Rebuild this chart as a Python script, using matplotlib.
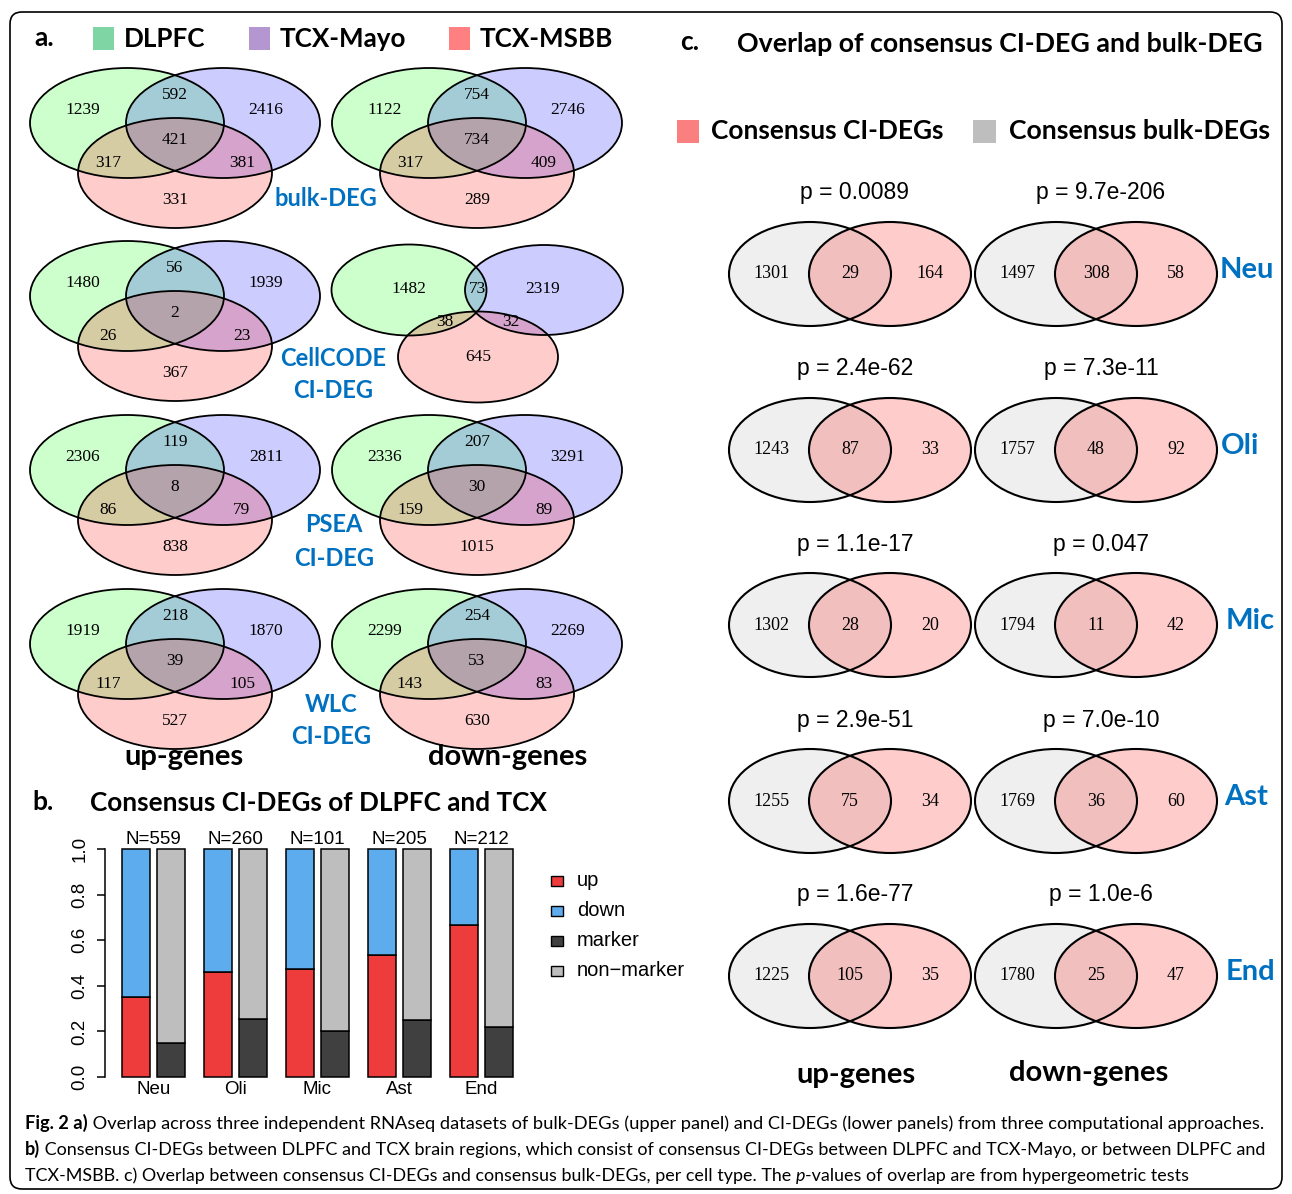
import matplotlib
matplotlib.use("Agg")
import matplotlib.pyplot as plt
from matplotlib.patches import Ellipse, FancyBboxPatch, Rectangle
from matplotlib import font_manager

# ---- panel a: three-way overlaps (DLPFC, TCX-Mayo, TCX-MSBB)
# order: DLPFC only, DLPFC&Mayo, Mayo only, all three, DLPFC&MSBB, Mayo&MSBB, MSBB only
up_bulk = [1239, 592, 2416, 421, 317, 381, 331]
down_bulk = [1122, 754, 2746, 734, 317, 409, 289]
up_cellcode = [1480, 56, 1939, 2, 26, 23, 367]
down_cellcode = [1482, 73, 2319, None, 38, 32, 645]
up_psea = [2306, 119, 2811, 8, 86, 79, 838]
down_psea = [2336, 207, 3291, 30, 159, 89, 1015]
up_wlc = [1919, 218, 1870, 39, 117, 105, 527]
down_wlc = [2299, 254, 2269, 53, 143, 83, 630]
method_labels = ["bulk-DEG", "CellCODE\nCI-DEG", "PSEA\nCI-DEG", "WLC\nCI-DEG"]
dataset_names = ["DLPFC", "TCX-Mayo", "TCX-MSBB"]

# ---- panel b: consensus CI-DEGs
cell_types = ["Neu", "Oli", "Mic", "Ast", "End"]
n_genes = [559, 260, 101, 205, 212]
frac_up = [0.35, 0.46, 0.475, 0.535, 0.665]
frac_marker = [0.15, 0.255, 0.20, 0.25, 0.22]

# ---- panel c: consensus CI-DEG vs bulk-DEG
up_bulk_only = [1301, 1243, 1302, 1255, 1225]
up_shared = [29, 87, 28, 75, 105]
up_ci_only = [164, 33, 20, 34, 35]
up_pval = ["0.0089", "2.4e-62", "1.1e-17", "2.9e-51", "1.6e-77"]
down_bulk_only = [1497, 1757, 1794, 1769, 1780]
down_shared = [308, 48, 11, 36, 25]
down_ci_only = [58, 92, 42, 60, 47]
down_pval = ["9.7e-206", "7.3e-11", "0.047", "7.0e-10", "1.0e-6"]

BLUE = "#0070C0"
HEAD = "Lato"
SERIF = "Liberation Serif"
ARIAL = "Liberation Sans"
installed = {f.name for f in font_manager.fontManager.ttflist}
CAP = "Liberation Sans Narrow" if "Liberation Sans Narrow" in installed else "Lato"
CAP_SIZE = 13.2

fig = plt.figure(figsize=(12.92, 11.94), dpi=100)
ax = fig.add_axes([0, 0, 1, 1])
ax.set_xlim(0, 1292)
ax.set_ylim(1194, 0)
ax.axis("off")

ax.add_patch(FancyBboxPatch((10, 12), 1272, 1177,
                            boxstyle="round,pad=0,rounding_size=12",
                            fc="none", ec="black", lw=1.2))

# ---------------- panel a ----------------
ax.text(44, 38, "a.", fontsize=19, fontweight="bold", family=HEAD, ha="center", va="center")
leg_cols = ["#7FD6A4", "#B497D0", "#FF8080"]
for x0, name, col in zip([93, 249, 449], dataset_names, leg_cols):
    ax.add_patch(Rectangle((x0, 27), 21, 23, fc=col, ec="none"))
    ax.text(x0 + 31, 39, name, fontsize=18.7, fontweight="bold", family=HEAD,
            ha="left", va="center")

set_cols = [(0, 1, 0), (0, 0, 1), (1, 0, 0)]
std_ell = [(-48, 0, 194, 110), (48, 0, 194, 110), (0, 50, 194, 110)]
std_txt = [(-92, -13), (0, -28), (91, -13), (0, 17), (-67, 40), (67, 40), (0, 77)]
odd_ell = [(-68, -6, 155, 91), (67, -6, 158, 90), (1, 61, 160, 91)]
odd_txt = [(-68, -7), (0, -7), (66, -7), (0, 0), (-32, 26), (34, 26), (1, 61)]


def venn3(cx, cy, counts, ells, offs):
    for (dx, dy, w, h), c in zip(ells, set_cols):
        ax.add_patch(Ellipse((cx + dx, cy + dy), w, h, fc=c + (0.2,), ec="none"))
    for (dx, dy, w, h) in ells:
        ax.add_patch(Ellipse((cx + dx, cy + dy), w, h, fc="none", ec="black", lw=1.3))
    for v, (dx, dy) in zip(counts, offs):
        if v is not None:
            ax.text(cx + dx, cy + dy, str(v), fontsize=12.5, family=SERIF,
                    ha="center", va="center")


rows_y = [123, 296, 470, 644]
up_sets = [up_bulk, up_cellcode, up_psea, up_wlc]
down_sets = [down_bulk, down_cellcode, down_psea, down_wlc]
label_x = [326, 333, 334, 331]
label_dy = [76, 62, 55, 60]
for i, cy in enumerate(rows_y):
    venn3(175, cy, up_sets[i], std_ell, std_txt)
    if down_sets[i][3] is None:
        venn3(477, cy, down_sets[i], odd_ell, odd_txt)
    else:
        venn3(477, cy, down_sets[i], std_ell, std_txt)
    for k, line in enumerate(method_labels[i].split("\n")):
        ax.text(label_x[i], cy + label_dy[i] + 33 * k, line, fontsize=17, fontweight="bold",
                color=BLUE, family=HEAD, ha="center", va="center")

ax.text(184, 757, "up-genes", fontsize=21, fontweight="bold", family=HEAD, ha="center", va="center")
ax.text(508, 757, "down-genes", fontsize=21, fontweight="bold", family=HEAD, ha="center", va="center")

# ---------------- panel b ----------------
ax.text(43, 802, "b.", fontsize=19, fontweight="bold", family=HEAD, ha="center", va="center")
ax.text(90, 803, "Consensus CI-DEGs of DLPFC and TCX", fontsize=18.8, fontweight="bold",
        family=HEAD, ha="left", va="center")

bar_cols = {"up": "#EE3B3B", "down": "#5CACEE", "marker": "#404040", "non-marker": "#BEBEBE"}
axb = fig.add_axes([105 / 1292, 1 - 1077 / 1194, 415 / 1292, 228 / 1194])
axb.set_xlim(0, 415)
axb.set_ylim(0, 1)
axb.patch.set_alpha(0)
for g in range(len(cell_types)):
    xr = 31 + 82 * g
    xg = xr + 35
    kw = dict(width=28, edgecolor="black", linewidth=1.1, clip_on=False)
    axb.bar(xr, frac_up[g], color=bar_cols["up"], **kw)
    axb.bar(xr, 1 - frac_up[g], bottom=frac_up[g], color=bar_cols["down"], **kw)
    axb.bar(xg, frac_marker[g], color=bar_cols["marker"], **kw)
    axb.bar(xg, 1 - frac_marker[g], bottom=frac_marker[g], color=bar_cols["non-marker"], **kw)
    axb.text(xr + 17.5, 1.005, f"N={n_genes[g]}", fontsize=13.5, family=ARIAL,
             ha="center", va="bottom", clip_on=False)
for s in ["top", "right", "bottom"]:
    axb.spines[s].set_visible(False)
axb.spines["left"].set_bounds(0, 1)
axb.spines["left"].set_linewidth(1.1)
axb.set_yticks([0, 0.2, 0.4, 0.6, 0.8, 1.0])
axb.set_yticklabels(["0.0", "0.2", "0.4", "0.6", "0.8", "1.0"], rotation=90,
                    va="center", fontsize=13.5, family=ARIAL)
axb.tick_params(axis="y", length=6, width=1.1, pad=6)
axb.set_xticks([31 + 82 * g + 17.5 for g in range(len(cell_types))])
axb.set_xticklabels(cell_types, fontsize=13.5, family=ARIAL)
axb.tick_params(axis="x", length=0, pad=3)

for k, name in enumerate(["up", "down", "marker", "non-marker"]):
    y = 881 + 30 * k
    ax.add_patch(Rectangle((551, y - 5), 12, 10, fc=bar_cols[name], ec="black", lw=1))
    ax.text(577, y, name.replace("-", "\u2212"), fontsize=14.5, family=ARIAL,
            ha="left", va="center")

# ---------------- panel c ----------------
ax.text(690, 42, "c.", fontsize=19, fontweight="bold", family=HEAD, ha="center", va="center")
ax.text(737, 44, "Overlap of consensus CI-DEG and bulk-DEG", fontsize=19.3,
        fontweight="bold", family=HEAD, ha="left", va="center")
ax.add_patch(Rectangle((677, 120), 22, 23, fc="#FA8080", ec="none"))
ax.text(711, 131, "Consensus CI-DEGs", fontsize=18.9, fontweight="bold", family=HEAD,
        ha="left", va="center")
ax.add_patch(Rectangle((973, 120), 23, 23, fc="#BEBEBE", ec="none"))
ax.text(1009, 131, "Consensus bulk-DEGs", fontsize=19.2, fontweight="bold", family=HEAD,
        ha="left", va="center")


def venn2(cx, cy, a, ab, b, pval):
    for dx, fc in [(-40, (0.6, 0.6, 0.6, 0.15)), (40, (1, 0, 0, 0.2))]:
        ax.add_patch(Ellipse((cx + dx, cy), 162, 104, fc=fc, ec="none"))
    for dx in (-40, 40):
        ax.add_patch(Ellipse((cx + dx, cy), 162, 104, fc="none", ec="black", lw=1.5))
    for dx, v in [(-79, a), (0, ab), (80, b)]:
        ax.text(cx + dx, cy, str(v), fontsize=13, family=SERIF, ha="center", va="center")
    ax.text(cx + 5, cy - 81, f"p = {pval}", fontsize=16.5, family=ARIAL,
            ha="center", va="center")


c_rows = [274, 450, 625, 801, 976]
c_label_x = [1247, 1240, 1250, 1246, 1250]
for i, cy in enumerate(c_rows):
    venn2(850, cy, up_bulk_only[i], up_shared[i], up_ci_only[i], up_pval[i])
    venn2(1096, cy, down_bulk_only[i], down_shared[i], down_ci_only[i], down_pval[i])
    ax.text(c_label_x[i], cy - 4, cell_types[i], fontsize=21, fontweight="bold", color=BLUE,
            family=HEAD, ha="center", va="center")

ax.text(856, 1075, "up-genes", fontsize=21, fontweight="bold", family=HEAD, ha="center", va="center")
ax.text(1089, 1073, "down-genes", fontsize=21, fontweight="bold", family=HEAD, ha="center", va="center")

# ---------------- caption ----------------
renderer = fig.canvas.get_renderer()


def run(parts, x, y, width):
    # mixed-style pieces on one baseline, sized so the line spans `width` px
    texts = []
    for txt, style in parts:
        kw = dict(fontsize=CAP_SIZE, family=CAP, va="baseline", ha="left")
        if style == "b":
            kw["fontweight"] = "bold"
        elif style == "i":
            kw["fontstyle"] = "italic"
        texts.append(ax.text(x, y, txt, **kw))
    total = sum(t.get_window_extent(renderer).width for t in texts)
    scale = width / total
    for t in texts:
        t.set_fontsize(CAP_SIZE * scale)
        t.set_x(x)
        x += t.get_window_extent(renderer).width


run([("Fig. 2 a)", "b"),
     (" Overlap across three independent RNAseq datasets of bulk-DEGs (upper panel) and "
      "CI-DEGs (lower panels) from three computational approaches.", "")], 25, 1129, 1247)
run([("b)", "b"),
     (" Consensus CI-DEGs between DLPFC and TCX brain regions, which consist of consensus "
      "CI-DEGs between DLPFC and TCX-Mayo, or between DLPFC and", "")], 25, 1155, 1243)
run([("TCX-MSBB. c) Overlap between consensus CI-DEGs and consensus bulk-DEGs, per cell "
      "type. The ", ""), ("p", "i"),
     ("-values of overlap are from hypergeometric tests", "")], 25, 1181, 1165)

fig.savefig("out.png", dpi=100)
